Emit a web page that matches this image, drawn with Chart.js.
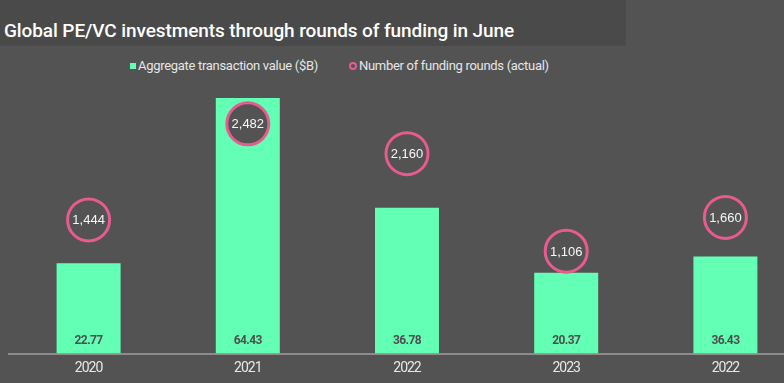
<!DOCTYPE html>
<html>
<head>
<meta charset="utf-8">
<script src="https://cdn.jsdelivr.net/npm/chart.js@4.4.1/dist/chart.umd.min.js"></script>
<style>
  html, body { margin: 0; padding: 0; width: 784px; height: 383px; overflow: hidden; background: #535353; }
  #titlebar { position: absolute; left: 0; top: 0; width: 626px; height: 46px; background: #4a4a4a; }
  #title { position: absolute; left: 4px; top: 19px; font-family: Roboto, "Liberation Sans", sans-serif; font-weight: 500; font-size: 19px; letter-spacing: -0.1px; color: #ffffff; white-space: nowrap; line-height: 24px; }
  #legend { position: absolute; top: 57px; left: 0; height: 18px; font-family: Roboto, "Liberation Sans", sans-serif; font-size: 13px; letter-spacing: -0.3px; color: #e6e6e6; white-space: nowrap; }
  .item { position: absolute; top: 0; line-height: 18px; }
  .sq { position: absolute; top: 6px; width: 6px; height: 6px; background: #63ffb4; }
  .ring { position: absolute; top: 5px; width: 4px; height: 4px; border: 2px solid #e75b8f; border-radius: 50%; }
  #wrap { position: absolute; left: 0; top: 80px; width: 810px; height: 303px; }
</style>
</head>
<body>
<div id="titlebar"></div>
<div id="title">Global PE/VC investments through rounds of funding in June</div>
<div id="legend">
  <span class="sq" style="left:130px"></span><span class="item" style="left:138px">Aggregate transaction value ($B)</span>
  <span class="ring" style="left:349px"></span><span class="item" style="left:359px">Number of funding rounds (actual)</span>
</div>
<div id="wrap"><canvas id="c"></canvas></div>
<script>
// Category labels (as printed on the x axis)
const categories = ['2020', '2021', '2022', '2023', '2022'];
// Bar heights as drawn in the reference ($B); the last bar is drawn lower than its printed label
const aggregateValue = [22.77, 64.43, 36.78, 20.37, 24.46];
// Printed bar value labels
const aggregateLabels = ['22.77', '64.43', '36.78', '20.37', '36.43'];
// Circle positions as drawn in the reference (number of rounds)
const fundingRounds = [1444, 2482, 2160, 1106, 1471];
// Printed circle labels
const roundLabels = ['1,444', '2,482', '2,160', '1,106', '1,660'];

const BAR = '#63ffb4';
const PINK = '#e75b8f';
const BG = '#535353';

const tightText = {
  id: 'tightText',
  beforeDraw(chart) { chart.ctx.letterSpacing = '-1px'; }
};

const valueLabels = {
  id: 'valueLabels',
  afterDatasetsDraw(chart) {
    const ctx = chart.ctx;
    const bottom = chart.chartArea.bottom;
    ctx.save();
    ctx.textAlign = 'center';
    ctx.textBaseline = 'middle';
    ctx.letterSpacing = '-0.6px';
    ctx.font = 'bold 12px Roboto, "Liberation Sans", sans-serif';
    ctx.fillStyle = '#4e4e4e';
    chart.getDatasetMeta(0).data.forEach((el, i) => {
      ctx.fillText(aggregateLabels[i], el.x, bottom - 13);
    });
    ctx.letterSpacing = '0px';
    ctx.font = '13px "Liberation Sans", sans-serif';
    ctx.fillStyle = '#f7f7f7';
    chart.getDatasetMeta(1).data.forEach((el, i) => {
      ctx.fillText(roundLabels[i], el.x, el.y + 1);
    });
    ctx.restore();
    ctx.letterSpacing = '-1px';
  }
};

new Chart(document.getElementById('c'), {
  data: {
    labels: categories,
    datasets: [
      {
        type: 'bar',
        label: 'Aggregate transaction value ($B)',
        data: aggregateValue,
        backgroundColor: BAR,
        borderWidth: 0,
        categoryPercentage: 1,
        barPercentage: 0.402,
        yAxisID: 'y',
        order: 2
      },
      {
        type: 'line',
        label: 'Number of funding rounds (actual)',
        data: fundingRounds,
        showLine: false,
        pointRadius: 21,
        pointHoverRadius: 21,
        pointBorderWidth: 3,
        pointBackgroundColor: BG,
        pointBorderColor: PINK,
        borderColor: PINK,
        backgroundColor: BG,
        yAxisID: 'y2',
        order: 1,
        clip: false
      }
    ]
  },
  options: {
    responsive: true,
    maintainAspectRatio: false,
    animation: false,
    events: [],
    layout: { autoPadding: false, padding: { left: 9, right: 5, top: 0, bottom: 0 } },
    plugins: { legend: { display: false }, tooltip: { enabled: false } },
    scales: {
      x: {
        grid: { display: false, drawTicks: false },
        border: { display: true, color: '#8c8c8c', width: 2 },
        ticks: {
          color: '#e8e8e8',
          font: { family: 'Roboto, "Liberation Sans", sans-serif', size: 14 },
          padding: 7,
          maxRotation: 0,
          autoSkip: false
        },
        afterFit(axis) { axis.height = 29.5; }
      },
      y: { display: false, min: 0, max: 69 },
      y2: { display: false, min: 0, max: 2956 }
    }
  },
  plugins: [tightText, valueLabels]
});
</script>
</body>
</html>
